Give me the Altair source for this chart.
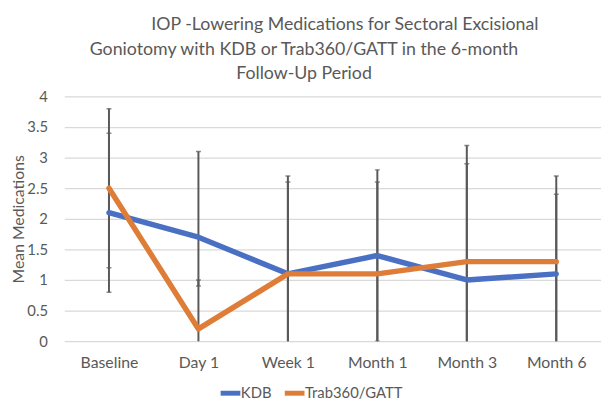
import altair as alt
import pandas as pd

categories = ["Baseline", "Day 1", "Week 1", "Month 1", "Month 3", "Month 6"]
series_names = ["KDB", "Trab360/GATT"]
kdb = [2.1, 1.7, 1.1, 1.4, 1.0, 1.1]
trab = [2.5, 0.2, 1.1, 1.1, 1.3, 1.3]
kdb_err_plus = [1.3, 1.4, 1.6, 1.4, 1.9, 1.3]
kdb_err_minus = [1.3, 0.8, 1.6, 1.4, 1.9, 1.3]
trab_err_plus = [1.3, 0.8, 1.5, 1.5, 1.9, 1.4]
trab_err_minus = [1.3, 0.8, 1.5, 1.5, 1.9, 1.4]
y_ticks = [0, 0.5, 1, 1.5, 2, 2.5, 3, 3.5, 4]
# leading non-breaking spaces reproduce the reference's off-centre first title line
LEAD = "\u200b" + "\u00a0" * 18
title_lines = [
    LEAD + "IOP -Lowering Medications for Sectoral Excisional",
    "Goniotomy with KDB or Trab360/GATT in the 6-month",
    "Follow-Up Period",
]
colors = ["#4A70C4", "#DE7D38"]

rows = []
for name, vals, ep, em in [
    (series_names[0], kdb, kdb_err_plus, kdb_err_minus),
    (series_names[1], trab, trab_err_plus, trab_err_minus),
]:
    for c, v, p, m in zip(categories, vals, ep, em):
        rows.append({"cat": c, "series": name, "value": v,
                     "upper": round(v + p, 2), "lower": round(v - m, 2)})
df = pd.DataFrame(rows)

FONT = "Lato"
GRAY = "#595959"

x = alt.X("cat:N", sort=categories, scale=alt.Scale(type="point", padding=0.5),
          axis=alt.Axis(title=None, labelAngle=0, ticks=False, domain=False,
                        labelPadding=14, labelFontSize=16, labelColor=GRAY, labelFont=FONT))
yscale = alt.Scale(domain=[0, 4])
yaxis = alt.Axis(title="Mean Medications", values=y_ticks,
                 format="~g", ticks=False, domain=False, labelPadding=17,
                 labelFontSize=15, labelColor=GRAY, labelFont=FONT,
                 titleFontSize=16, titleColor=GRAY, titleFont=FONT,
                 titleFontWeight="normal", titlePadding=0,
                 gridColor="#D9D9D9", gridWidth=1.3)

base = alt.Chart(df)

rules = base.mark_rule(color=GRAY, strokeWidth=2, clip=True).encode(
    x=x,
    y=alt.Y("lower:Q", scale=yscale, axis=yaxis),
    y2="upper:Q",
)
caps_up = base.mark_tick(color=GRAY, size=5, thickness=1.5, clip=True).encode(
    x=x, y=alt.Y("upper:Q", scale=yscale, axis=yaxis)
)
caps_lo = base.mark_tick(color=GRAY, size=5, thickness=1.5, clip=True).encode(
    x=x, y=alt.Y("lower:Q", scale=yscale, axis=yaxis)
)
lines = base.mark_line(strokeWidth=5.5, strokeCap="round", strokeJoin="round").encode(
    x=x,
    y=alt.Y("value:Q", scale=yscale, axis=yaxis),
    color=alt.Color("series:N", scale=alt.Scale(domain=series_names, range=colors),
                    legend=alt.Legend(title=None, orient="none", legendX=156, legendY=288,
                                      direction="horizontal", symbolType="stroke",
                                      symbolStrokeWidth=5, symbolSize=400,
                                      labelFontSize=15, labelColor=GRAY, labelFont=FONT,
                                      columnPadding=2, labelOffset={"expr": "-2"}, padding=0)),
)

chart = alt.layer(rules, caps_up, caps_lo, lines).properties(
    width=544,
    height=248,
    autosize="none",
    padding={"left": 57, "top": 87, "right": 0, "bottom": 58},
    title=alt.Title(title_lines, fontSize=18, font=FONT, fontWeight="normal", color=GRAY,
                    lineHeight=24.5, anchor="middle", dx=-29, offset=7),
).configure_view(stroke=None)

chart.save("out.html", embed_options={"renderer": "svg", "actions": False})
